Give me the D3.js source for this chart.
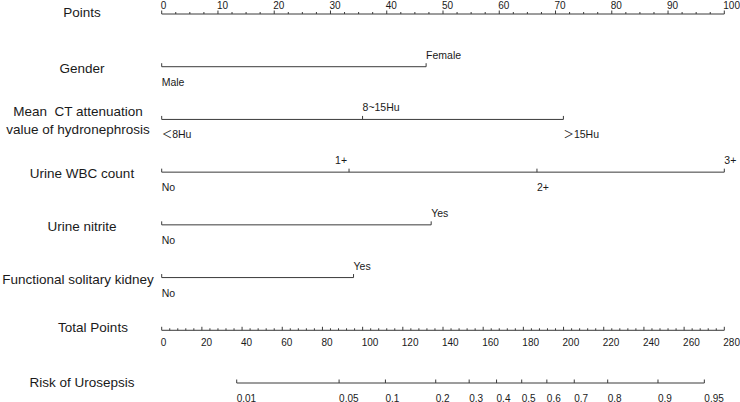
<!DOCTYPE html>
<html><head><meta charset="utf-8">
<script src="https://cdn.jsdelivr.net/npm/d3@7"></script>
<style>
html,body{margin:0;padding:0;background:#fff;}
svg text{font-family:"Liberation Sans",Arial,"Noto Sans CJK SC",sans-serif;fill:#1a1a1a;white-space:pre;}
</style></head>
<body><svg id="c" width="740" height="402"></svg>
<script>
// ---- data ----
const pointTicks = [0,10,20,30,40,50,60,70,80,90,100];
const totalTicks = [0,20,40,60,80,100,120,140,160,180,200,220,240,260,280];
const riskTicks = [0.01,0.05,0.1,0.2,0.3,0.4,0.5,0.6,0.7,0.8,0.9,0.95];
const varNames = [["Gender"],["Mean  CT attenuation","value of hydronephrosis"],["Urine WBC count"],["Urine nitrite"],["Functional solitary kidney"]];
const levelLabels = [["Male","Female"],["\uFF1C8Hu","8~15Hu","\uFF1E15Hu"],["No","1+","2+","3+"],["No","Yes"],["No","Yes"]];
const levelPoints = [[0,47],[0,35.7,71.4],[0,33.3,66.7,100],[0,47.9],[0,34.1]];
const lpIntercept = -5.8045, lpSlope = 0.032396;

// ---- layout ----
const svg = d3.select("#c");
const x0 = 161.7, x1 = 724.3;
const xPts = d3.scaleLinear().domain([0,100]).range([x0,x1]);
const xTot = d3.scaleLinear().domain([0,280]).range([x0,x1]);
const riskToTotal = p => (Math.log(p/(1-p)) - lpIntercept)/lpSlope;
const rowY = d3.scalePoint().domain(d3.range(8)).range([14,383]);
const labelX = 78;
const lineColor = "#3a3a3a";

function rowLabel(lines, y, dx){
  const t = svg.append("text").attr("text-anchor","middle").attr("font-size",13.5);
  const n = lines.length;
  lines.forEach((s,i)=>{
    t.append("tspan").attr("x", labelX+(dx||0)).attr("y", y + (i-(n-1)/2)*18 + 5).text(s);
  });
}

// Points axis
{
  const y = 14;
  rowLabel(["Points"], y-2, 4);
  svg.append("line").attr("x1",xPts(0)).attr("x2",xPts(100)).attr("y1",y).attr("y2",y).attr("stroke",lineColor);
  const minor = d3.range(0,100.01,2.5);
  svg.selectAll(null).data(minor).enter().append("line")
    .attr("x1",d=>xPts(d)).attr("x2",d=>xPts(d)).attr("y1",y)
    .attr("y2",d=> (d%10===0)? y-3.5 : y-2).attr("stroke",lineColor);
  svg.selectAll(null).data(pointTicks).enter().append("text")
    .attr("x",d=>xPts(d)-1).attr("y",y-5).attr("font-size",10).text(d=>d);
}

// Variables
varNames.forEach((nm,i)=>{
  const y = rowY(i+1);
  rowLabel(nm, y+1, (i===1 || i===4) ? 0 : 4);
  const pts = levelPoints[i];
  svg.append("line").attr("x1",xPts(d3.min(pts))).attr("x2",xPts(d3.max(pts)))
    .attr("y1",y).attr("y2",y).attr("stroke",lineColor);
  svg.selectAll(null).data(pts).enter().append("line")
    .attr("x1",d=>xPts(d)).attr("x2",d=>xPts(d)).attr("y1",y).attr("y2",y-3.5).attr("stroke",lineColor);
  svg.selectAll(null).data(pts.map((p,j)=>({p,j,l:levelLabels[i][j]}))).enter().append("text")
    .attr("x",d=>xPts(d.p) + ((i===2 && d.j===1)? -2 : 0))
    .attr("y",d=> d.j%2===0 ? y+19 : y-8)
    .attr("text-anchor",d=> (i===2 && d.j===1) ? "end" : "start")
    .attr("font-size",10.5).text(d=>d.l);
});

// Total points axis
{
  const y = rowY(6);
  rowLabel(["Total Points"], y-3, 15);
  svg.append("line").attr("x1",xTot(0)).attr("x2",xTot(280)).attr("y1",y).attr("y2",y).attr("stroke",lineColor);
  const minor = d3.range(0,280.01,4);
  svg.selectAll(null).data(minor).enter().append("line")
    .attr("x1",d=>xTot(d)).attr("x2",d=>xTot(d)).attr("y1",y)
    .attr("y2",d=> (d%20===0)? y-3.5 : y-2).attr("stroke",lineColor);
  svg.selectAll(null).data(totalTicks).enter().append("text")
    .attr("x",d=>xTot(d)-1).attr("y",y+15.5).attr("font-size",10).text(d=>d);
}

// Risk axis
{
  const y = rowY(7);
  rowLabel(["Risk of Urosepsis"], y-1, 4);
  const xr = p => xTot(riskToTotal(p));
  svg.append("line").attr("x1",xr(riskTicks[0])).attr("x2",xr(riskTicks[riskTicks.length-1]))
    .attr("y1",y).attr("y2",y).attr("stroke",lineColor);
  svg.selectAll(null).data(riskTicks).enter().append("line")
    .attr("x1",d=>xr(d)).attr("x2",d=>xr(d)).attr("y1",y).attr("y2",y-3.5).attr("stroke",lineColor);
  svg.selectAll(null).data(riskTicks).enter().append("text")
    .attr("x",d=>xr(d)).attr("y",y+18.5).attr("font-size",10).text(d=>d);
}
</script></body></html>
